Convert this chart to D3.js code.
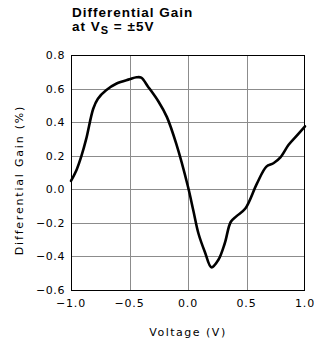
<!DOCTYPE html>
<html><head><meta charset="utf-8">
<script src="https://cdn.jsdelivr.net/npm/d3@7"></script>
<style>
html,body{margin:0;padding:0;background:#fff;}
svg{display:block;}
</style></head>
<body><svg id="c" width="314" height="344"></svg>
<script>
const voltage = [-1.0, -0.95, -0.91, -0.87, -0.81, -0.77, -0.70, -0.61, -0.50, -0.44, -0.40, -0.34, -0.25, -0.18, -0.10, 0.0, 0.045, 0.09, 0.145, 0.20, 0.26, 0.315, 0.365, 0.415, 0.49, 0.59, 0.67, 0.73, 0.79, 0.86, 0.93, 1.0];
const gain = [0.05, 0.12, 0.20, 0.30, 0.48, 0.54, 0.59, 0.63, 0.655, 0.667, 0.665, 0.61, 0.52, 0.43, 0.27, 0.015, -0.125, -0.265, -0.375, -0.465, -0.42, -0.32, -0.195, -0.16, -0.115, 0.035, 0.135, 0.155, 0.19, 0.265, 0.32, 0.375];
const xTicks = [-1.0, -0.5, 0.0, 0.5, 1.0];
const xTickLabels = ["\u22121.0", "\u22120.5", "0.0", "0.5", "1.0"];
const yTicks = [0.8, 0.6, 0.4, 0.2, 0.0, -0.2, -0.4, -0.6];
const yTickLabels = ["0.8", "0.6", "0.4", "0.2", "0.0", "\u22120.2", "\u22120.4", "\u22120.6"];

const svg = d3.select("#c");
const L = 71, R = 305, T = 55, B = 290;
const x = d3.scaleLinear().domain([-1, 1]).range([L, R]);
const y = d3.scaleLinear().domain([-0.6, 0.8]).range([B, T]);

// grid
svg.append("g").selectAll("line.v").data(xTicks.slice(1, -1)).join("line")
  .attr("x1", d => Math.round(x(d)) + 0.5).attr("x2", d => Math.round(x(d)) + 0.5)
  .attr("y1", T).attr("y2", B).attr("stroke", "#8c8c8c").attr("stroke-width", 1);
svg.append("g").selectAll("line.h").data(yTicks.slice(1, -1)).join("line")
  .attr("y1", d => Math.round(y(d)) + 0.5).attr("y2", d => Math.round(y(d)) + 0.5)
  .attr("x1", L).attr("x2", R).attr("stroke", "#8c8c8c").attr("stroke-width", 1);

// frame
svg.append("rect").attr("x", L + 0.5).attr("y", T + 0.5).attr("width", R - L - 1).attr("height", B - T)
  .attr("fill", "none").attr("stroke", "#000").attr("stroke-width", 1);

// curve
const pts = voltage.map((v, i) => [v, gain[i]]);
svg.append("path").datum(pts)
  .attr("d", d3.line().x(d => x(d[0])).y(d => y(d[1])).curve(d3.curveCatmullRom.alpha(0.5)))
  .attr("fill", "none").attr("stroke", "#000").attr("stroke-width", 2.6)
  .attr("stroke-linejoin", "round").attr("stroke-linecap", "round");

const tickFont = "DejaVu Sans";
// y tick labels
svg.append("g").selectAll("text").data(yTicks).join("text")
  .attr("x", 65).attr("y", d => y(d) + 4)
  .attr("text-anchor", "end").attr("font-family", tickFont).attr("font-size", 11)
  .attr("letter-spacing", 0.6).attr("fill", "#000")
  .text((d, i) => yTickLabels[i]);
// x tick labels
svg.append("g").selectAll("text").data(xTicks).join("text")
  .attr("x", d => x(d)).attr("y", 307)
  .attr("text-anchor", "middle").attr("font-family", tickFont).attr("font-size", 11)
  .attr("letter-spacing", 0.8).attr("fill", "#000")
  .text((d, i) => xTickLabels[i]);

// axis titles
svg.append("text").attr("x", 188).attr("y", 336).attr("text-anchor", "middle")
  .attr("font-family", tickFont).attr("font-size", 11).attr("letter-spacing", 1.5)
  .text("Voltage (V)");
svg.append("text").attr("transform", "translate(23,180) rotate(-90)").attr("text-anchor", "middle")
  .attr("font-family", tickFont).attr("font-size", 11).attr("letter-spacing", 1.8)
  .text("Differential Gain (%)");

// title
svg.append("text").attr("font-family", "Liberation Sans, Arial, sans-serif")
  .attr("font-weight", "bold").attr("font-size", 13.5).attr("letter-spacing", 1).attr("fill", "#000")
  .attr("x", 72).attr("y", 17).text("Differential Gain");
const l2 = svg.append("text").attr("font-family", "Liberation Sans, Arial, sans-serif")
  .attr("font-weight", "bold").attr("font-size", 13.5).attr("letter-spacing", 1).attr("fill", "#000")
  .attr("x", 72).attr("y", 31);
l2.append("tspan").text("at V");
l2.append("tspan").attr("font-size", 11).attr("dy", 3).text("S");
l2.append("tspan").attr("dy", -3).text(" = \u00b15V");
</script></body></html>
